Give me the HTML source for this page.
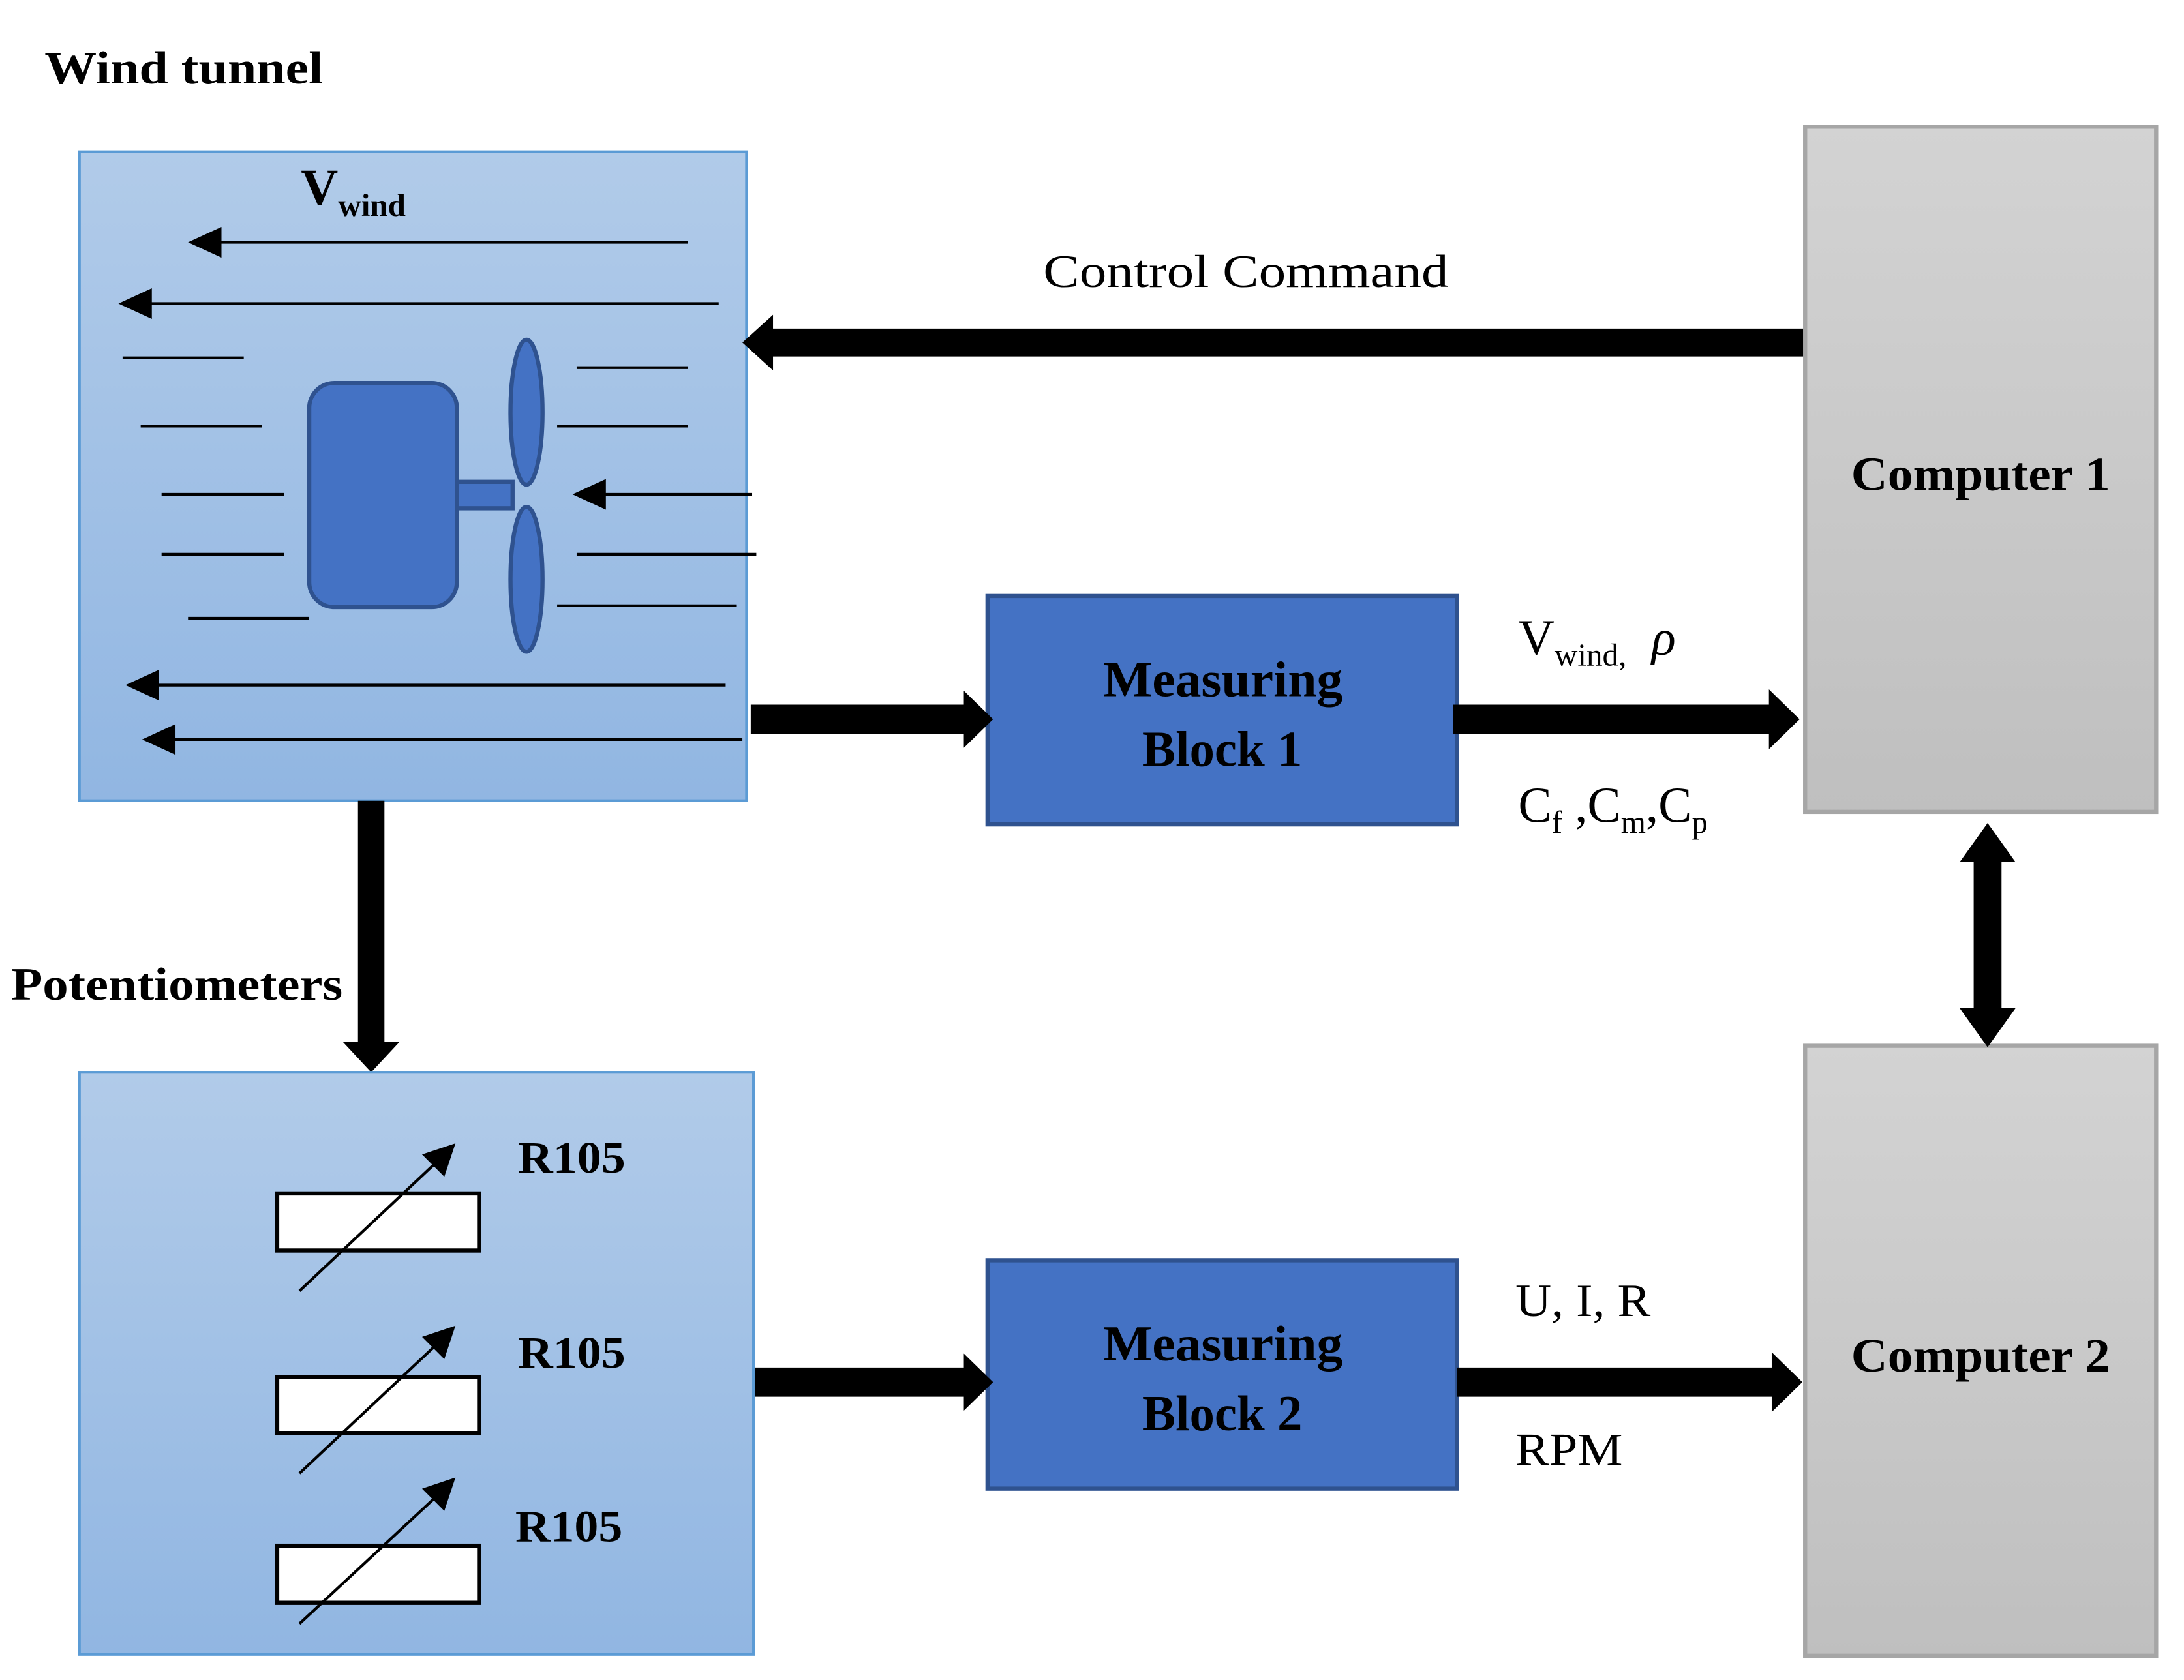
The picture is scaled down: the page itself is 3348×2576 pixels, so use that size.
<!DOCTYPE html>
<html><head><meta charset="utf-8"><style>html,body{margin:0;padding:0;background:#fff}svg{display:block}</style></head>
<body>
<svg width="3348" height="2576" viewBox="0 0 1568 1206.4" preserveAspectRatio="none" xmlns="http://www.w3.org/2000/svg" font-family="'Liberation Serif', serif">
<defs>
<linearGradient id="bl" x1="0" y1="0" x2="0" y2="1"><stop offset="0" stop-color="#b1cbe9"/><stop offset="1" stop-color="#91b6e2"/></linearGradient>
<linearGradient id="gr" x1="0" y1="0" x2="0" y2="1"><stop offset="0" stop-color="#d3d3d3"/><stop offset="1" stop-color="#bfbfbf"/></linearGradient>
</defs>
<text x="32" y="60" font-size="33" font-weight="bold" textLength="200" lengthAdjust="spacingAndGlyphs">Wind tunnel</text>
<rect x="57" y="109" width="479" height="466" fill="url(#bl)" stroke="#5b9bd5" stroke-width="2"/>
<text x="216" y="147" font-size="37" font-weight="bold">V<tspan font-size="23" dy="8">wind</tspan></text>
<g stroke="#000" stroke-width="2">
<line x1="494" y1="174" x2="150" y2="174"/>
<line x1="516" y1="218" x2="100" y2="218"/>
<line x1="88" y1="257" x2="175" y2="257"/>
<line x1="101" y1="306" x2="188" y2="306"/>
<line x1="116" y1="355" x2="204" y2="355"/>
<line x1="116" y1="398" x2="204" y2="398"/>
<line x1="135" y1="444" x2="222" y2="444"/>
<line x1="414" y1="264" x2="494" y2="264"/>
<line x1="400" y1="306" x2="494" y2="306"/>
<line x1="540" y1="355" x2="425" y2="355"/>
<line x1="414" y1="398" x2="543" y2="398"/>
<line x1="400" y1="435" x2="529" y2="435"/>
<line x1="521" y1="492" x2="105" y2="492"/>
<line x1="533" y1="531" x2="117" y2="531"/>
</g>
<g fill="#000">
<polygon points="135,174 159,163 159,185"/>
<polygon points="85,218 109,207 109,229"/>
<polygon points="411,355 435,344 435,366"/>
<polygon points="90,492 114,481 114,503"/>
<polygon points="102,531 126,520 126,542"/>
</g>
<g fill="#4472c4" stroke="#2f528f" stroke-width="3">
<rect x="222" y="275" width="106" height="161" rx="18"/>
<rect x="328" y="346" width="40" height="19"/>
<ellipse cx="378" cy="296" rx="11.5" ry="52"/>
<ellipse cx="378" cy="416" rx="11.5" ry="52"/>
</g>
<text x="749" y="206" font-size="33" textLength="291" lengthAdjust="spacingAndGlyphs">Control Command</text>
<polygon points="533,246 555,226 555,236 1298,236 1298,256 555,256 555,266" fill="#000"/>
<rect x="1296" y="91" width="252" height="492" fill="url(#gr)" stroke="#a6a6a6" stroke-width="3"/>
<text x="1329" y="352" font-size="34" font-weight="bold" textLength="186" lengthAdjust="spacingAndGlyphs">Computer 1</text>
<rect x="1296" y="751" width="252" height="438" fill="url(#gr)" stroke="#a6a6a6" stroke-width="3"/>
<text x="1329" y="985" font-size="34" font-weight="bold" textLength="186" lengthAdjust="spacingAndGlyphs">Computer 2</text>
<rect x="709" y="428" width="337" height="164" fill="#4472c4" stroke="#2f528f" stroke-width="3"/>
<text x="792" y="500" font-size="36" font-weight="bold" textLength="172" lengthAdjust="spacingAndGlyphs">Measuring</text>
<text x="820" y="550" font-size="36" font-weight="bold" textLength="115" lengthAdjust="spacingAndGlyphs">Block 1</text>
<rect x="709" y="905" width="337" height="164" fill="#4472c4" stroke="#2f528f" stroke-width="3"/>
<text x="792" y="977" font-size="36" font-weight="bold" textLength="172" lengthAdjust="spacingAndGlyphs">Measuring</text>
<text x="820" y="1027" font-size="36" font-weight="bold" textLength="115" lengthAdjust="spacingAndGlyphs">Block 2</text>
<g fill="#000">
<polygon points="539,506 692,506 692,496 713,516.5 692,537 692,527 539,527"/>
<polygon points="1043,506 1270,506 1270,495 1292,516.5 1270,538 1270,527 1043,527"/>
<polygon points="539,982 692,982 692,972 713,992.5 692,1013 692,1003 539,1003"/>
<polygon points="1046,982 1272,982 1272,971 1294,992.5 1272,1014 1272,1003 1046,1003"/>
<polygon points="257,575 276,575 276,748 287,748 266.5,770 246,748 257,748"/>
<polygon points="1427,591 1447,619 1437,619 1437,724 1447,724 1427,752 1407,724 1417,724 1417,619 1407,619"/>
</g>
<text x="1090" y="470" font-size="36">V<tspan font-size="23" dy="8">wind,</tspan><tspan dy="-8" dx="18" font-style="italic">ρ</tspan></text>
<text x="1090" y="590" font-size="36">C<tspan font-size="23" dy="8">f</tspan><tspan dy="-8"> ,C</tspan><tspan font-size="23" dy="8">m</tspan><tspan dy="-8">,C</tspan><tspan font-size="23" dy="8">p</tspan></text>
<text x="1088" y="945" font-size="33" textLength="97" lengthAdjust="spacingAndGlyphs">U, I, R</text>
<text x="1088" y="1052" font-size="33" textLength="77" lengthAdjust="spacingAndGlyphs">RPM</text>
<text x="8" y="718" font-size="33" font-weight="bold" textLength="238" lengthAdjust="spacingAndGlyphs">Potentiometers</text>
<rect x="57" y="770" width="484" height="418" fill="url(#bl)" stroke="#5b9bd5" stroke-width="2"/>
<g stroke="#000" stroke-width="3" fill="#fff">
<rect x="199" y="857" width="145" height="41"/>
<rect x="199" y="989" width="145" height="40"/>
<rect x="199" y="1110" width="145" height="41"/>
</g>
<g stroke="#000" stroke-width="2">
<line x1="215" y1="927" x2="315" y2="833"/>
<line x1="215" y1="1058" x2="315" y2="964"/>
<line x1="215" y1="1166" x2="315" y2="1073"/>
</g>
<g fill="#000">
<polygon points="327,821 319,845 303,829"/>
<polygon points="327,952 319,976 303,960"/>
<polygon points="327,1061 319,1085 303,1069"/>
</g>
<text x="372" y="842" font-size="32" font-weight="bold" textLength="77" lengthAdjust="spacingAndGlyphs">R105</text>
<text x="372" y="982" font-size="32" font-weight="bold" textLength="77" lengthAdjust="spacingAndGlyphs">R105</text>
<text x="370" y="1107" font-size="32" font-weight="bold" textLength="77" lengthAdjust="spacingAndGlyphs">R105</text>
</svg>
</body></html>
